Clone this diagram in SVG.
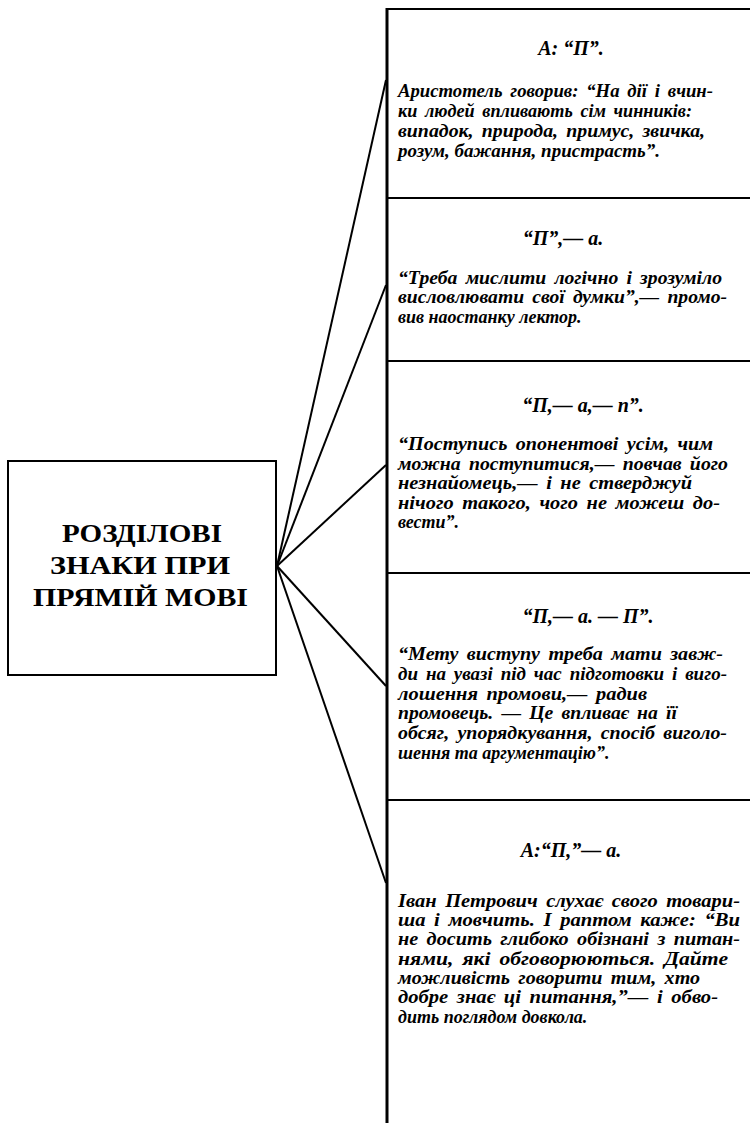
<svg xmlns="http://www.w3.org/2000/svg" width="750" height="1123" viewBox="0 0 750 1123">
<style>
.frame{fill:none;stroke:#000;stroke-width:2}
.col{stroke:#000;stroke-width:3}
.div{stroke:#000;stroke-width:2}
.conn{stroke:#000;stroke-width:2;fill:none}
.title{font-family:"Liberation Serif","Times New Roman",serif;font-weight:bold;font-size:25px;fill:#000}
.head{font-family:"Liberation Serif","Times New Roman",serif;font-weight:bold;font-style:italic;font-size:20px;fill:#000;text-anchor:middle}
.body{font-family:"Liberation Serif","Times New Roman",serif;font-weight:bold;font-style:italic;font-size:18px;fill:#000}
.j{word-spacing:3px}
</style>
<rect width="750" height="1123" fill="#fff"/>
<g id="main">
<rect class="frame" x="8" y="461" width="268" height="214"/>
<text class="title" x="62" y="542" textLength="160" lengthAdjust="spacingAndGlyphs">РОЗДІЛОВІ</text>
<text class="title" x="50" y="574" textLength="180" lengthAdjust="spacingAndGlyphs">ЗНАКИ ПРИ</text>
<text class="title" x="33" y="606" textLength="215" lengthAdjust="spacingAndGlyphs">ПРЯМІЙ МОВІ</text>
</g>
<g id="column">
<line class="col" x1="387" y1="8" x2="387" y2="1123"/>
<line class="div" x1="386" y1="9" x2="750" y2="9"/>
<line class="div" x1="386" y1="198" x2="750" y2="198"/>
<line class="div" x1="386" y1="361" x2="750" y2="361"/>
<line class="div" x1="386" y1="573" x2="750" y2="573"/>
<line class="div" x1="386" y1="800" x2="750" y2="800"/>
</g>
<g id="connectors">
<line class="conn" x1="277" y1="566" x2="386" y2="80"/>
<line class="conn" x1="277" y1="566" x2="386" y2="285"/>
<line class="conn" x1="277" y1="566" x2="386" y2="465"/>
<line class="conn" x1="277" y1="566" x2="386" y2="686"/>
<line class="conn" x1="277" y1="566" x2="386" y2="883"/>
</g>
<g id="box1">
<text class="head" x="571" y="55">А: “П”.</text>
<text class="body j" x="398" y="97" textLength="315" lengthAdjust="spacingAndGlyphs">Аристотель говорив: “На дії і вчин-</text>
<text class="body j" x="398" y="117" textLength="294" lengthAdjust="spacingAndGlyphs">ки людей впливають сім чинників:</text>
<text class="body j" x="398" y="137" textLength="307" lengthAdjust="spacingAndGlyphs">випадок, природа, примус, звичка,</text>
<text class="body" x="398" y="157" textLength="262" lengthAdjust="spacingAndGlyphs">розум, бажання, пристрасть”.</text>
</g>
<g id="box2">
<text class="head" x="563" y="245">“П”,— а.</text>
<text class="body j" x="398" y="284" textLength="324" lengthAdjust="spacingAndGlyphs">“Треба мислити логічно і зрозуміло</text>
<text class="body j" x="398" y="303" textLength="329" lengthAdjust="spacingAndGlyphs">висловлювати свої думки”,— промо-</text>
<text class="body" x="398" y="323">вив наостанку лектор.</text>
</g>
<g id="box3">
<text class="head" x="583" y="412">“П,— а,— п”.</text>
<text class="body j" x="398" y="450" textLength="315" lengthAdjust="spacingAndGlyphs">“Поступись опонентові усім, чим</text>
<text class="body j" x="398" y="470" textLength="330" lengthAdjust="spacingAndGlyphs">можна поступитися,— повчав його</text>
<text class="body j" x="398" y="489" textLength="294" lengthAdjust="spacingAndGlyphs">незнайомець,— і не стверджуй</text>
<text class="body j" x="398" y="509" textLength="322" lengthAdjust="spacingAndGlyphs">нічого такого, чого не можеш до-</text>
<text class="body" x="398" y="528">вести”.</text>
</g>
<g id="box4">
<text class="head" x="588" y="623">“П,— а. — П”.</text>
<text class="body j" x="398" y="660" textLength="325" lengthAdjust="spacingAndGlyphs">“Мету виступу треба мати завж-</text>
<text class="body j" x="398" y="680" textLength="329" lengthAdjust="spacingAndGlyphs">ди на увазі під час підготовки і виго-</text>
<text class="body j" x="398" y="700" textLength="249" lengthAdjust="spacingAndGlyphs">лошення промови,— радив</text>
<text class="body j" x="398" y="719" textLength="279" lengthAdjust="spacingAndGlyphs">промовець. — Це впливає на її</text>
<text class="body j" x="398" y="739" textLength="329" lengthAdjust="spacingAndGlyphs">обсяг, упорядкування, спосіб виголо-</text>
<text class="body" x="398" y="759">шення та аргументацію”.</text>
</g>
<g id="box5">
<text class="head" x="571" y="857">А:“П,”— а.</text>
<text class="body j" x="398" y="907" textLength="342" lengthAdjust="spacingAndGlyphs">Іван Петрович слухає свого товари-</text>
<text class="body j" x="398" y="926" textLength="342" lengthAdjust="spacingAndGlyphs">ша і мовчить. І раптом каже: “Ви</text>
<text class="body j" x="398" y="945" textLength="342" lengthAdjust="spacingAndGlyphs">не досить глибоко обізнані з питан-</text>
<text class="body j" x="398" y="965" textLength="330" lengthAdjust="spacingAndGlyphs">нями, які обговорюються. Дайте</text>
<text class="body j" x="398" y="984" textLength="302" lengthAdjust="spacingAndGlyphs">можливість говорити тим, хто</text>
<text class="body j" x="398" y="1003" textLength="320" lengthAdjust="spacingAndGlyphs">добре знає ці питання,”— і обво-</text>
<text class="body" x="398" y="1023">дить поглядом довкола.</text>
</g>
</svg>
